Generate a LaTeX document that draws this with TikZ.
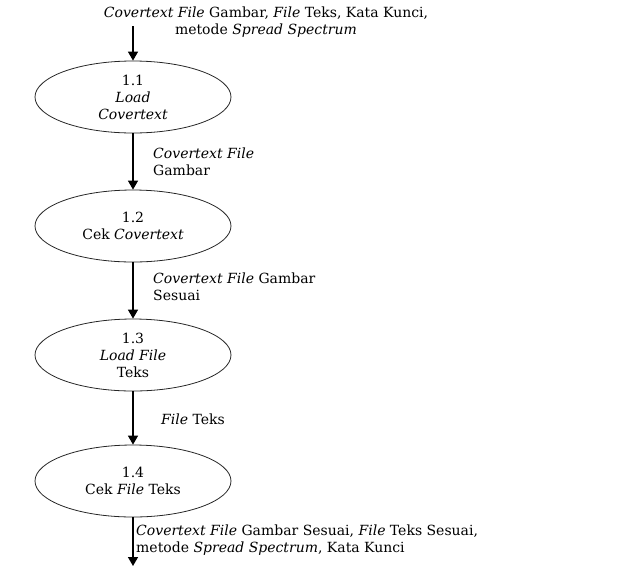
\documentclass[tikz,border=0pt]{standalone}
\usepackage{fontspec}
\setmainfont{DejaVu Serif}
\usepackage{tikz}
\usetikzlibrary{shapes.geometric,arrows.meta}

\begin{document}
\begin{tikzpicture}[x=1pt,y=1pt,
  font=\fontsize{14}{17}\selectfont,
  proses/.style={draw=black!85,line width=0.8pt,ellipse,minimum width=196pt,minimum height=72pt,inner sep=0pt,align=center},
  alir/.style={-{Triangle[length=9pt,width=10pt]},line width=1.4pt},
  ket/.style={anchor=west,align=left,inner sep=0pt}]
\useasboundingbox (0,0) rectangle (617,-571);
\node[align=center,inner sep=0pt](masuk) at (266,-22){\textit{Covertext File} Gambar, \textit{File} Teks, Kata Kunci,\\metode \textit{Spread Spectrum}};
\coordinate (awal) at (133,-26);
\node[proses](p11) at (133,-97){1.1\\\textit{Load}\\\textit{Covertext}};
\node[proses](p12) at (133,-226){1.2\\Cek \textit{Covertext}};
\node[proses](p13) at (133,-355){1.3\\\textit{Load File}\\Teks};
\node[proses](p14) at (133,-481){1.4\\Cek \textit{File} Teks};
\coordinate (akhir) at (133,-566);
\draw[alir] (awal) -- (p11);
\draw[alir] (p11) -- (p12);
\draw[alir] (p12) -- (p13);
\draw[alir] (p13) -- (p14);
\draw[alir] (p14) -- (akhir);
\node[ket](k2) at (153,-161.5){\textit{Covertext File}\\Gambar};
\node[ket](k3) at (153,-287){\textit{Covertext File} Gambar\\Sesuai};
\node[ket](k4) at (161,-419){\textit{File} Teks};
\node[ket](k5) at (136,-540){\textit{Covertext File} Gambar Sesuai, \textit{File} Teks Sesuai,\\metode \textit{Spread Spectrum}, Kata Kunci};
\end{tikzpicture}
\end{document}
